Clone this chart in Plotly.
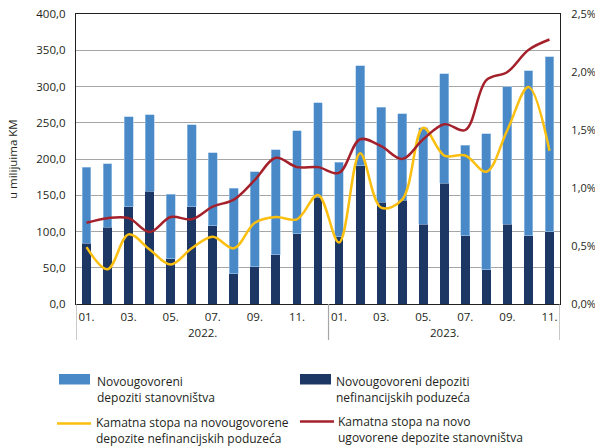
import plotly.graph_objects as go

# Monthly data, Jan 2022 - Nov 2023
months = ['01.', '02.', '03.', '04.', '05.', '06.', '07.', '08.', '09.', '10.', '11.', '12.',
          '01.', '02.', '03.', '04.', '05.', '06.', '07.', '08.', '09.', '10.', '11.']
years = ['2022.', '2023.']

# new deposits, mil KM
deposits_companies = [83.7, 105.7, 134.2, 155.8, 62.2, 134.2, 108.1, 42.0, 51.6, 68.2, 97.1, 147.1,
                      92.9, 190.7, 140.2, 142.9, 109.9, 166.3, 94.3, 47.1, 109.9, 94.3, 99.4]
deposits_households = [105.2, 87.7, 124.4, 105.1, 89.5, 112.9, 100.5, 118.0, 130.8, 144.5, 141.8, 130.8,
                       102.3, 137.7, 131.3, 119.8, 133.5, 151.1, 124.9, 187.6, 190.0, 227.2, 241.4]

# interest rates, %
rate_companies = [0.49, 0.30, 0.60, 0.47, 0.34, 0.48, 0.58, 0.48, 0.70, 0.75, 0.73, 0.94,
                  0.53, 1.30, 0.83, 0.90, 1.52, 1.28, 1.28, 1.14, 1.50, 1.87, 1.32]
rate_households = [0.70, 0.74, 0.74, 0.62, 0.75, 0.73, 0.84, 0.90, 1.07, 1.26, 1.18, 1.18,
                   1.13, 1.42, 1.36, 1.25, 1.42, 1.55, 1.50, 1.93, 2.00, 2.19, 2.28]

names = ['Novougovoreni<br>depoziti stanovništva',
         'Novougovoreni depoziti<br>nefinancijskih poduzeća',
         'Kamatna stopa na novougovorene<br>depozite nefinancijskih poduzeća',
         'Kamatna stopa na novo<br>ugovorene depozite stanovništva']
colors = ['#4a89c8', '#1c3764', '#fbbf0f', '#a4202b']

x = list(range(len(months)))
font = 'Open Sans'

fig = go.Figure()

fig.add_trace(go.Bar(
    x=x, y=deposits_companies, width=0.42,
    marker=dict(color=colors[1], line=dict(width=0)),
    name=names[1]
))
fig.add_trace(go.Bar(
    x=x, y=deposits_households, width=0.42,
    marker=dict(color=colors[0], line=dict(width=0.6, color='#a9c9ea')),
    name=names[0]
))
fig.add_trace(go.Scatter(
    x=x, y=rate_companies, yaxis='y2', mode='lines',
    line=dict(color=colors[2], width=2.5, shape='spline', smoothing=1),
    name=names[2]
))
fig.add_trace(go.Scatter(
    x=x, y=rate_households, yaxis='y2', mode='lines',
    line=dict(color=colors[3], width=2.5, shape='spline', smoothing=1),
    name=names[3]
))

left_ticks = [0, 50, 100, 150, 200, 250, 300, 350, 400]
right_ticks = [0, 0.5, 1.0, 1.5, 2.0, 2.5]

fig.update_layout(
    width=595, height=447,
    margin=dict(l=76, r=35, t=14, b=143, autoexpand=False),
    barmode='stack',
    plot_bgcolor='white', paper_bgcolor='white',
    font=dict(family=font, size=11, color='#231f20'),
    showlegend=False,
    xaxis=dict(
        range=[-0.5, len(months) - 0.5],
        tickvals=x[::2], ticktext=months[::2],
        showgrid=False, showline=True, linecolor='#231f20', linewidth=1.3,
        mirror=True, ticks='', zeroline=False,
        tickfont=dict(size=11.5), ticklabelstandoff=2
    ),
    yaxis=dict(
        range=[0, 400], tickvals=left_ticks,
        ticktext=[f'{v:.1f}'.replace('.', ',') for v in left_ticks],
        showgrid=True, gridcolor='#a6a6a6', gridwidth=1,
        showline=True, linecolor='#231f20', linewidth=1.3,
        zeroline=False, ticks='', tickfont=dict(size=11.5), ticklabelstandoff=7
    ),
    yaxis2=dict(
        range=[0, 2.5], overlaying='y', side='right',
        tickvals=right_ticks,
        ticktext=[f'{v:.1f}%'.replace('.', ',') for v in right_ticks],
        showgrid=False, showline=True, linecolor='#231f20', linewidth=1.3,
        zeroline=False, ticks='', tickfont=dict(size=11), ticklabelstandoff=8
    ),
)

# pixel -> paper helpers (plot area 76..560 x 14..304)
def px(v):
    return (v - 76) / 484

def py(v):
    return (304 - v) / 290

# year dividers below the axis
for xv in [-0.5, 11.5, len(months) - 0.5]:
    fig.add_shape(type='line', xref='x', yref='paper', x0=xv, x1=xv, y0=0, y1=py(340),
                  line=dict(color='#a6a6a6', width=1.2))

for xc, yr in zip([5.5, 17], years):
    fig.add_annotation(x=xc, y=py(332.5), xref='x', yref='paper', text=yr,
                       showarrow=False, font=dict(size=11.5), yanchor='middle')

fig.add_annotation(x=px(12), y=0.5, xref='paper', yref='paper', text='u milijuima KM',
                   textangle=-90, showarrow=False, font=dict(size=11.5),
                   xanchor='center', yanchor='middle')

# legend (2 x 2 grid)
legend_pos = [(59, 90, 95, 379, 389), (300, 331, 334, 379, 389),
              (57, 91, 94, 423.5, 430), (300, 334, 336, 421.5, 429.5)]
for i, (x0, x1, tx, sy, ty) in enumerate(legend_pos):
    if i < 2:
        fig.add_shape(type='rect', xref='paper', yref='paper',
                      x0=px(x0), x1=px(x1), y0=py(sy - 5), y1=py(sy + 5.5),
                      fillcolor=colors[i], line=dict(width=0))
    else:
        fig.add_shape(type='line', xref='paper', yref='paper',
                      x0=px(x0), x1=px(x1), y0=py(sy), y1=py(sy),
                      line=dict(color=colors[i], width=2.5))
    fig.add_annotation(x=px(tx), y=py(ty), xref='paper', yref='paper', text=names[i],
                       showarrow=False, xanchor='left', yanchor='middle', align='left',
                       font=dict(size=12))

fig.write_html("out.html", config={'displayModeBar': False},
               post_script="document.body.style.margin='0';")
